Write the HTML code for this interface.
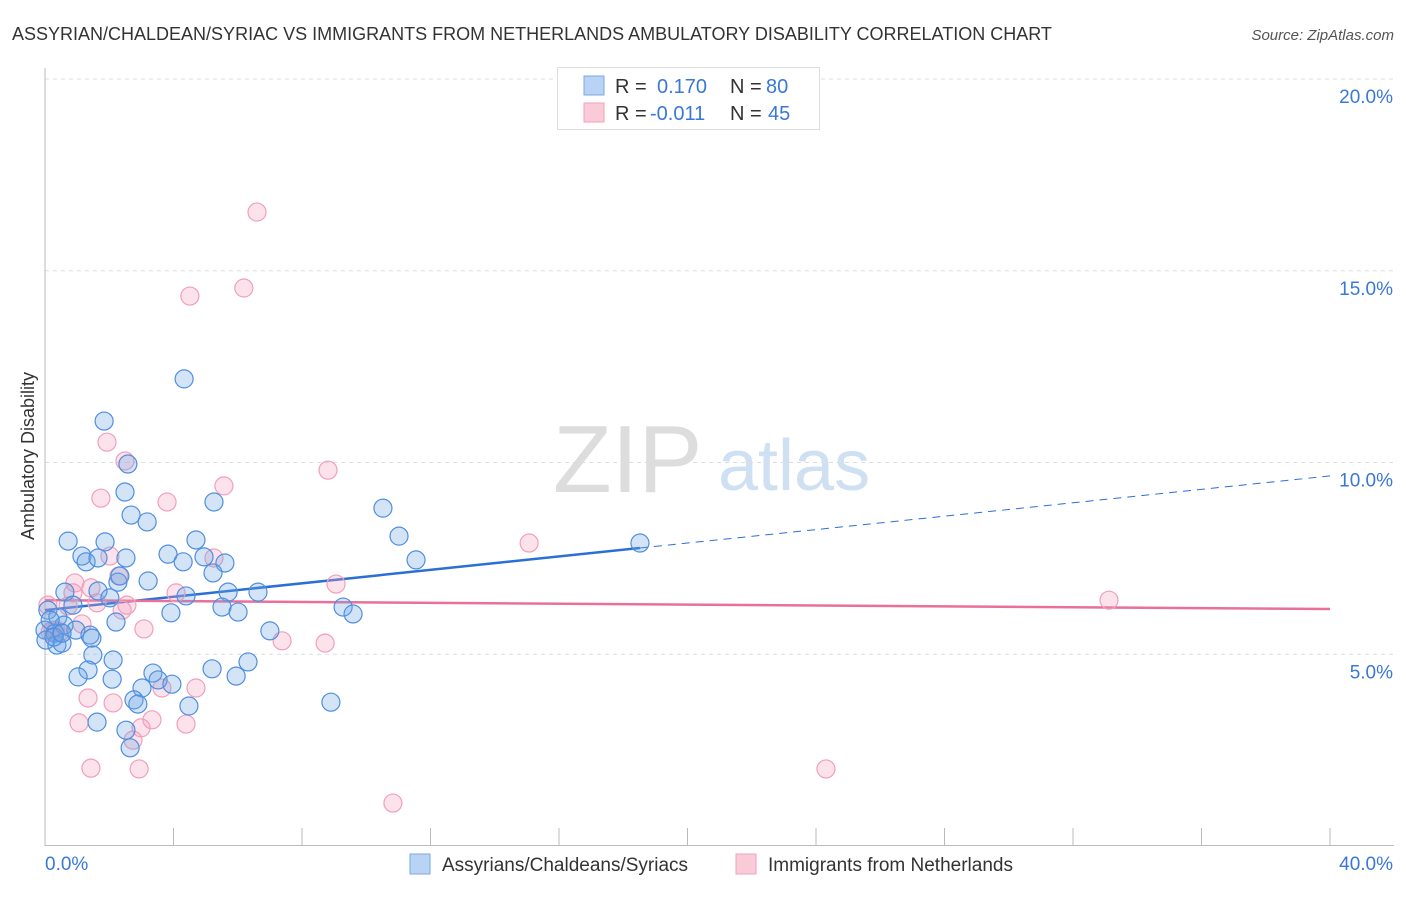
<!DOCTYPE html>
<html><head><meta charset="utf-8"><style>
body{margin:0;background:#fff;font-family:"Liberation Sans",sans-serif;}
svg text{font-family:"Liberation Sans",sans-serif;}
</style></head><body>
<svg id="chart" width="1406" height="892" xmlns="http://www.w3.org/2000/svg">
<text x="12" y="40" font-size="18" fill="#333">ASSYRIAN/CHALDEAN/SYRIAC VS IMMIGRANTS FROM NETHERLANDS AMBULATORY DISABILITY CORRELATION CHART</text>
<text x="1394" y="40" font-size="15" fill="#555" font-style="italic" text-anchor="end">Source: ZipAtlas.com</text>
<g>
<text x="553" y="492" font-size="96" font-family="Liberation Serif" fill="#ddd">ZIP</text>
<text x="718" y="490" font-size="72" fill="#cfe0f3">atlas</text>
</g>
<g id="grid"></g>
<g id="axes"></g>
<text transform="translate(34,456) rotate(-90)" font-size="18" fill="#333" text-anchor="middle">Ambulatory Disability</text>
<g id="lines"></g>
<g id="pts"></g>
<g>
<rect x="557.5" y="67.5" width="262" height="62" fill="#fff" stroke="#ddd"/>
<rect x="584" y="76" width="20" height="19" fill="#b8d3f3" stroke="#7aaae6"/>
<rect x="584" y="103" width="20" height="19" fill="#f9cad8" stroke="#f0a1b9"/>
<text x="615" y="93" font-size="20" fill="#333">R =</text>
<text x="657" y="93" font-size="20" fill="#3a78d6">0.170</text>
<text x="730" y="93" font-size="20" fill="#333">N =</text>
<text x="766" y="93" font-size="20" fill="#3a78d6">80</text>
<text x="615" y="120" font-size="20" fill="#333">R =</text>
<text x="650" y="120" font-size="20" fill="#3a78d6">-0.011</text>
<text x="730" y="120" font-size="20" fill="#333">N =</text>
<text x="768" y="120" font-size="20" fill="#3a78d6">45</text>
</g>
<g>
<rect x="410" y="854" width="20" height="20" fill="#b8d3f3" stroke="#7aaae6"/>
<text x="442" y="871" font-size="19" fill="#333">Assyrians/Chaldeans/Syriacs</text>
<rect x="736" y="854" width="20" height="20" fill="#f9cad8" stroke="#f0a1b9"/>
<text x="768" y="871" font-size="19" fill="#333">Immigrants from Netherlands</text>
</g>
</svg>
<script>
const blueX=[4.33,1.84,2.58,2.49,5.26,2.68,3.18,10.52,11.02,0.72,1.87,4.70,3.83,1.15,2.52,1.28,1.65,4.95,11.55,5.60,4.30,5.23,3.21,2.27,2.33,6.63,5.70,0.62,1.65,2.02,4.39,0.87,5.51,6.01,9.28,9.59,3.92,0.09,0.40,2.21,0.59,0.96,0,0.31,7.00,1.40,1.46,0.37,0.53,1.49,2.12,1.34,1.03,6.32,5.20,3.36,3.52,3.95,5.95,2.09,3.02,2.77,2.89,4.48,8.90,1.62,2.52,2.65,18.52,0.16,0.03,0.28,0.53];
const blueY=[12.18,11.08,9.96,9.23,8.97,8.63,8.45,8.81,8.08,7.95,7.93,7.98,7.61,7.56,7.51,7.41,7.51,7.54,7.46,7.38,7.41,7.12,6.91,6.88,7.04,6.62,6.62,6.62,6.65,6.47,6.52,6.28,6.23,6.10,6.23,6.05,6.08,6.15,5.97,5.84,5.76,5.63,5.63,5.55,5.61,5.50,5.42,5.24,5.29,4.98,4.85,4.59,4.41,4.80,4.62,4.51,4.33,4.22,4.43,4.35,4.12,3.81,3.70,3.65,3.75,3.23,3.02,2.56,7.90,5.89,5.37,5.45,5.55];
const pinkX=[6.60,4.51,6.19,1.93,2.49,8.81,1.74,3.80,5.57,15.07,2.02,5.26,2.30,0.93,1.43,0.87,4.08,9.06,2.55,1.62,2.40,0.09,0.72,33.12,1.15,3.08,0.34,7.38,8.72,0.16,0.47,4.70,3.64,1.34,2.12,1.06,4.39,3.33,2.99,2.74,1.43,2.93,24.31,10.83,0.25];
const pinkY=[16.53,14.34,14.55,10.53,10.04,9.80,9.07,8.97,9.39,7.90,7.56,7.51,7.04,6.86,6.73,6.60,6.60,6.83,6.28,6.34,6.15,6.28,6.26,6.41,5.79,5.66,5.63,5.35,5.29,5.58,5.58,4.12,4.12,3.86,3.73,3.21,3.18,3.29,3.08,2.76,2.03,2.01,2.01,1.12,5.63];
const blueTrend=[6.15,9.65]; // y at x=0 and x=40
const pinkTrend=[6.41,6.18];
const yTicks=[5,10,15,20];
const yTickLabels=["5.0%","10.0%","15.0%","20.0%"];
const xTickLabels=["0.0%","40.0%"];
const NS="http://www.w3.org/2000/svg";
const X=v=>45+v*1285/40, Y=v=>846-v*38.35;
function mk(t,a,p){const e=document.createElementNS(NS,t);for(const k in a)e.setAttribute(k,a[k]);p.appendChild(e);return e;}
const grid=document.getElementById('grid'),axes=document.getElementById('axes');
yTicks.forEach((v,i)=>{
  const l=mk('line',{x1:45,x2:1394,y1:Y(v),y2:Y(v),stroke:'#ddd','stroke-dasharray':'4,4'},grid);
  
  
  const t=mk('text',{x:1393,y:Y(v)+24,'font-size':19,fill:'#3a78d6','text-anchor':'end'},axes);
  t.textContent=yTickLabels[i];
  
  
});
mk('line',{x1:45,x2:45,y1:68,y2:846,stroke:'#bbb'},axes);
mk('line',{x1:45,x2:1394,y1:845.5,y2:845.5,stroke:'#bbb'},axes);
for(let i=0;i<=10;i++){const tk=mk('line',{x1:X(i*4),x2:X(i*4),y1:828,y2:846,stroke:'#bbb'},axes);
  
  }
const t0=mk('text',{x:45,y:870,'font-size':19,fill:'#3a78d6'},axes);t0.textContent=xTickLabels[0];


const t1=mk('text',{x:1393,y:870,'font-size':19,fill:'#3a78d6','text-anchor':'end'},axes);t1.textContent=xTickLabels[1];


const pts=document.getElementById('pts');
pinkX.forEach((x,i)=>{const c=mk('circle',{cx:X(x),cy:Y(pinkY[i]),r:9,fill:'rgba(245,160,190,0.3)',stroke:'#f0a0ba','stroke-width':1.2},pts);
  
  });
blueX.forEach((x,i)=>{const c=mk('circle',{cx:X(x),cy:Y(blueY[i]),r:9,fill:'rgba(110,165,230,0.3)',stroke:'#4f8ee0','stroke-width':1.2},pts);
  
  });
const lines=document.getElementById('lines');
const bAt=x=>blueTrend[0]+(blueTrend[1]-blueTrend[0])*x/40;
const pAt=x=>pinkTrend[0]+(pinkTrend[1]-pinkTrend[0])*x/40;
const xmaxB=Math.max(...blueX);
const b1=mk('line',{x1:X(0),y1:Y(bAt(0)),x2:X(xmaxB),y2:Y(bAt(xmaxB)),stroke:'#2a6fd6','stroke-width':2.5},lines);


const b2=mk('line',{x1:X(xmaxB),y1:Y(bAt(xmaxB)),x2:X(40),y2:Y(bAt(40)),stroke:'#2a6fd6','stroke-width':1,'stroke-dasharray':'8,6'},lines);


const p1=mk('line',{x1:X(0),y1:Y(pAt(0)),x2:X(40),y2:Y(pAt(40)),stroke:'#e8709a','stroke-width':2.5},lines);


</script>
</body></html>
